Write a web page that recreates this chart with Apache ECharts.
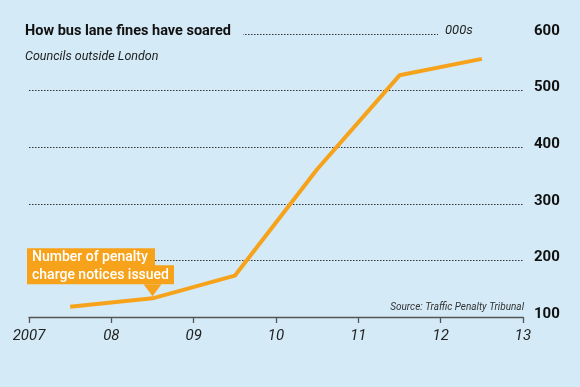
<!DOCTYPE html>
<html><head><meta charset="utf-8">
<script src="https://cdn.jsdelivr.net/npm/echarts@6/dist/echarts.min.js"></script>
<style>html,body{margin:0;padding:0;background:#d4eaf6}#c{width:580px;height:387px}</style>
</head><body><div id="c"></div>
<script>
var years = [2007.5, 2008.5, 2009.5, 2010.5, 2011.5, 2012.5];
var notices = [118, 133, 173, 361, 527, 556];
var xTickLabels = {2007:'2007',2008:'08',2009:'09',2010:'10',2011:'11',2012:'12',2013:'13'};
var yTicks = [100, 200, 300, 400, 500, 600];
var titleText = 'How bus lane fines have soared';
var subText = 'Councils outside London';
var unitText = '000s';
var sourceText = 'Source: Traffic Penalty Tribunal';
var annLines = ['Number of penalty', 'charge notices issued'];
var annIndex = 1;

var BG = '#d4eaf6', ORANGE = '#f7a21b', FONT = 'Roboto';
var chart = echarts.init(document.getElementById('c'), null, {renderer:'canvas'});
chart.setOption({
  backgroundColor: BG,
  animation: false,
  textStyle: {fontFamily: FONT},
  grid: {left: 29, right: 57, top: 34, bottom: 70, containLabel: false},
  title: [
    {text: titleText, left: 21, top: 22, padding: [2, 12, 2, 4], backgroundColor: BG,
     textStyle: {fontFamily: FONT, fontSize: 14.5, fontWeight: 'bold', color: '#111'}},
    {text: subText, left: 21, top: 50, padding: [0, 4, 0, 4],
     textStyle: {fontFamily: FONT, fontSize: 12.5, fontStyle: 'italic', fontWeight: 'normal', color: '#222'}},
    {text: unitText, left: 438, top: 22, padding: [2, 57, 2, 7], backgroundColor: BG, z: 1,
     textStyle: {fontFamily: FONT, fontSize: 13, fontStyle: 'italic', fontWeight: 'normal', color: '#222'}},
    {text: sourceText, right: 56, top: 302, padding: 0,
     textStyle: {fontFamily: FONT, fontSize: 10, fontStyle: 'italic', fontWeight: 'normal', color: '#333'}}
  ],
  xAxis: {
    type: 'value', min: 2007, max: 2013, interval: 1,
    axisLine: {show: true, lineStyle: {color: '#555', width: 1.3}},
    axisTick: {show: true, length: 6, lineStyle: {color: '#555', width: 1.3}},
    splitLine: {show: false},
    axisLabel: {margin: 12, fontFamily: FONT, fontSize: 15, fontStyle: 'italic', color: '#222',
      formatter: function (v) { return xTickLabels[v] || ''; }}
  },
  yAxis: {
    type: 'value', position: 'right', min: yTicks[0], max: yTicks[yTicks.length - 1], interval: 100,
    axisLine: {show: false}, axisTick: {show: false},
    splitLine: {show: true, lineStyle: {color: '#333', type: [1.5, 1.5], width: 1}},
    axisLabel: {margin: 11, fontFamily: FONT, fontSize: 15, fontWeight: 'bold', color: '#111',
      verticalAlign: 'bottom', lineHeight: 6}
  },
  series: [{
    type: 'line', data: years.map(function (y, i) { return [y, notices[i]]; }),
    symbol: 'none', lineStyle: {color: ORANGE, width: 4}, z: 3
  }]
});

var p = chart.convertToPixel({gridIndex: 0}, [years[annIndex], notices[annIndex]]);
var tipX = p[0], tipY = p[1] - 2;
var boxL = 27, baseY = tipY - 12;
chart.setOption({
  graphic: [
    {type: 'rect', z: 10, shape: {x: boxL, y: baseY - 36, width: 128, height: 19}, style: {fill: ORANGE}},
    {type: 'rect', z: 10, shape: {x: boxL, y: baseY - 19, width: 147, height: 19}, style: {fill: ORANGE}},
    {type: 'polygon', z: 10, shape: {points: [[tipX - 9, baseY], [tipX + 9, baseY], [tipX, tipY]]}, style: {fill: ORANGE}},
    {type: 'text', z: 11, x: boxL + 5, y: baseY - 27, style: {text: annLines[0], fill: '#fff', font: '500 14px ' + FONT, textVerticalAlign: 'middle', verticalAlign: 'middle'}},
    {type: 'text', z: 11, x: boxL + 5, y: baseY - 9, style: {text: annLines[1], fill: '#fff', font: '500 14px ' + FONT, textVerticalAlign: 'middle', verticalAlign: 'middle'}}
  ]
});
</script></body></html>
